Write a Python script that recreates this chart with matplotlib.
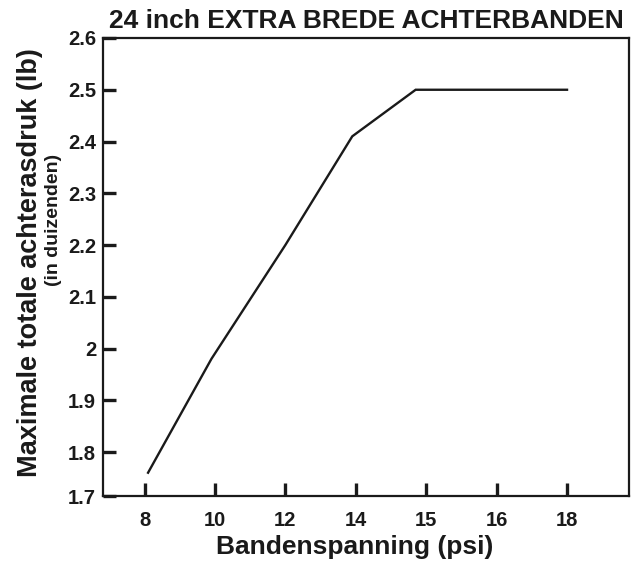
import matplotlib
matplotlib.use("Agg")
import matplotlib.pyplot as plt
import numpy as np

plt.rcParams["font.family"] = ["Liberation Sans", "DejaVu Sans"]
plt.rcParams["font.weight"] = "bold"

# tyre pressure ticks (evenly spaced on the axis even though the values are not)
psi_ticks = [8, 10, 12, 14, 15, 16, 18]

# load curve, thousands of lb
psi = [8.1, 9.9, 12, 13.9, 14.85, 18]
load = [1.76, 1.98, 2.20, 2.41, 2.50, 2.50]

y_ticks = [1.8, 1.9, 2.0, 2.1, 2.2, 2.3, 2.4, 2.5, 2.6]
y_bottom = 1.715

fig = plt.figure(figsize=(6.39, 5.63), dpi=100)
ax = fig.add_axes([103 / 639, 1 - 496 / 563, 526 / 639, 458 / 563])

# map psi onto the evenly spaced tick positions
pos = np.interp(psi, psi_ticks, np.arange(len(psi_ticks)))
ax.plot(pos, load, color="#1a1a1a", lw=1.7, solid_joinstyle="miter")

ax.set_xlim(-0.59, 6.88)
ax.set_ylim(y_bottom, 2.6)
ax.set_xticks(np.arange(len(psi_ticks)))
ax.set_xticklabels([str(p) for p in psi_ticks])
ax.set_yticks([y_bottom] + y_ticks)
ax.set_yticklabels(["1.7"] + ["2" if abs(v - 2) < 1e-9 else f"{v:.1f}" for v in y_ticks])

ax.tick_params(direction="in", length=9.5, width=2.4, colors="#1a1a1a", labelsize=14.5)
ax.tick_params(axis="x", pad=11)
ax.tick_params(axis="y", pad=5)
for sp in ax.spines.values():
    sp.set_linewidth(1.6)
    sp.set_color("#1a1a1a")

ax.set_xlabel("Bandenspanning (psi)", fontsize=19, fontweight="bold", color="#1a1a1a")
ax.xaxis.set_label_coords(0.479, -0.085)
fig.text(109 / 639, 1 - 21 / 563, "24 inch EXTRA BREDE ACHTERBANDEN", fontsize=19,
         fontweight="bold", color="#1a1a1a", ha="left", va="center")
fig.text(30 / 639, 1 - 263 / 563, "Maximale totale achterasdruk (lb)", rotation=90,
         fontsize=19.5, fontweight="bold", color="#1a1a1a", ha="center", va="center")
fig.text(54 / 639, 1 - 220 / 563, "(in duizenden)", rotation=90,
         fontsize=14, fontweight="bold", color="#1a1a1a", ha="center", va="center")

fig.savefig("out.png", dpi=100)
